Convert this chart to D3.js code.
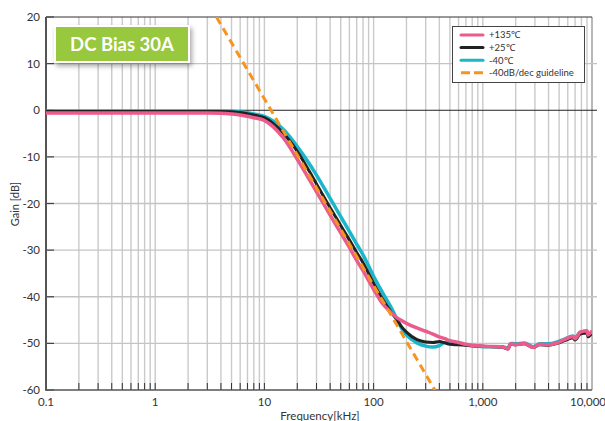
<!DOCTYPE html>
<html lang="en">
<head>
    <meta charset="UTF-8">
    <title>DC Bias 30A</title>
    <script src="https://cdn.jsdelivr.net/npm/d3@7"></script>
    <style>
        body {
            margin: 0;
            background: #fff;
        }
        svg {
            display: block;
        }
        text {
            font-family: Lato, "Open Sans", sans-serif;
            fill: #333;
        }
    </style>
</head>
<body>
    <script>
        // frequency points (kHz) shared by the three measured curves
        const freqs = [0.1, 0.2, 0.5, 1, 2, 3, 4, 5, 6, 7, 8, 10, 12, 15, 20, 30, 40, 50, 60, 70, 80,
            100, 120, 150, 162, 180, 200, 250, 300, 350, 400, 450, 500, 600, 700, 800,
            1000, 1500, 1700, 1800, 2000, 2400, 2900, 3300, 4000, 4800, 5600, 6700, 7000, 7800, 9000, 9200, 10000];

        // gain [dB] for each temperature
        const gainHot = [-0.6, -0.6, -0.6, -0.6, -0.6, -0.6, -0.65, -0.8, -1.0, -1.3, -1.6, -2.2, -3.5, -6.0, -10.5, -17.5, -22.5, -26.3, -29.4, -32.2, -34.4,
            -38.4, -41.4, -43.7, -44.4, -45.1, -45.7, -46.7, -47.4, -48.0, -48.6, -49.0, -49.4, -49.8, -50.2, -50.4,
            -50.6, -50.7, -51.2, -50.1, -50.3, -50.0, -50.9, -50.2, -50.3, -49.9, -49.2, -48.5, -49.0, -47.6, -47.3, -48.2, -47.3];
        const gainRoom = [-0.25, -0.25, -0.25, -0.25, -0.25, -0.25, -0.25, -0.3, -0.5, -0.75, -1.0, -1.6, -2.8, -5.0, -8.8, -15.8, -20.9, -24.7, -27.8, -30.5, -32.7,
            -37.1, -40.4, -43.8, -44.8, -46.4, -47.6, -49.2, -49.7, -49.8, -49.6, -49.9, -50.2, -50.3, -50.4, -50.5,
            -50.6, -50.8, -51.2, -50.2, -50.3, -50.1, -50.9, -50.3, -50.4, -50.0, -49.4, -48.8, -49.3, -48.0, -47.8, -48.6, -47.8];
        const gainCold = [-0.15, -0.15, -0.15, -0.15, -0.15, -0.15, -0.15, -0.2, -0.35, -0.55, -0.8, -1.3, -2.3, -4.2, -7.8, -13.9, -18.9, -22.8, -26.0, -28.7, -31.0,
            -35.6, -39.0, -43.0, -44.6, -46.7, -48.2, -49.9, -50.6, -50.8, -50.5, -49.8, -49.8, -50.0, -50.3, -50.5,
            -50.7, -50.7, -51.0, -50.0, -50.1, -49.9, -50.7, -50.1, -50.1, -49.7, -49.1, -48.4, -48.8, -47.6, -47.4, -48.2, -47.5];

        // -40dB/dec guideline end points
        const guideFreq = [3.64, 364];
        const guideGain = [20, -60];

        const legendLabels = ["+135\u2103", "+25\u2103", "-40\u2103", "-40dB/dec guideline"];
        const decadeLabels = ["0.1", "1", "10", "100", "1,000", "10,000"];
        const gainTicks = [20, 10, 0, -10, -20, -30, -40, -50, -60];

        const width = 605;
        const height = 421;
        const pL = 46, pR = 592, pT = 17, pB = 390;

        const svg = d3.select("body").append("svg")
            .attr("width", width)
            .attr("height", height);

        const defs = svg.append("defs");
        defs.append("clipPath").attr("id", "plotClip")
            .append("rect")
            .attr("x", pL).attr("y", pT)
            .attr("width", pR - pL).attr("height", pB - pT);
        defs.append("filter").attr("id", "shadow")
            .attr("x", "-20%").attr("y", "-30%").attr("width", "150%").attr("height", "180%")
            .append("feDropShadow")
            .attr("dx", 2).attr("dy", 3).attr("stdDeviation", 2.5)
            .attr("flood-color", "#000").attr("flood-opacity", 0.35);

        const x = d3.scaleLog().domain([0.1, 10000]).range([pL, pR]);
        const y = d3.scaleLinear().domain([-60, 20]).range([pB, pT]);

        //grid
        const grid = svg.append("g");
        const xTicks = x.ticks();
        grid.selectAll(".vgrid")
            .data(xTicks)
            .enter()
            .append("line")
            .attr("x1", d => x(d)).attr("x2", d => x(d))
            .attr("y1", pT).attr("y2", pB)
            .attr("stroke", (d, i) => i === xTicks.length - 1 ? "#9a9a9a" : "#cacaca")
            .attr("stroke-width", 1.4);

        grid.selectAll(".hgrid")
            .data(gainTicks.filter(d => d !== 20 && d !== -60))
            .enter()
            .append("line")
            .attr("x1", pL).attr("x2", pR + 5)
            .attr("y1", d => y(d)).attr("y2", d => y(d))
            .attr("stroke", d => d === 0 ? "#222" : "#c4c4c4")
            .attr("stroke-width", d => d === 0 ? 1 : 1.4);

        // top border
        grid.append("line")
            .attr("x1", pL).attr("x2", pR)
            .attr("y1", y(20)).attr("y2", y(20))
            .attr("stroke", "#333").attr("stroke-width", 1);

        // bottom ticks
        grid.selectAll(".xtick")
            .data(xTicks.slice(1, -1))
            .enter()
            .append("line")
            .attr("x1", d => x(d)).attr("x2", d => x(d))
            .attr("y1", pB).attr("y2", pB - 7)
            .attr("stroke", "#333").attr("stroke-width", 1);

        // left ticks
        grid.selectAll(".ytick")
            .data(gainTicks)
            .enter()
            .append("line")
            .attr("x1", pL).attr("x2", pL + 8)
            .attr("y1", d => y(d)).attr("y2", d => y(d))
            .attr("stroke", "#444").attr("stroke-width", 1.2);

        // axis lines
        grid.append("line")
            .attr("x1", pL).attr("x2", pR)
            .attr("y1", pB).attr("y2", pB)
            .attr("stroke", "#555").attr("stroke-width", 1.5);
        grid.append("line")
            .attr("x1", pL).attr("x2", pL)
            .attr("y1", pT).attr("y2", pB + 0.75)
            .attr("stroke", "#555").attr("stroke-width", 2);

        // labels
        svg.selectAll(".ylab")
            .data(gainTicks)
            .enter()
            .append("text")
            .attr("x", 40)
            .attr("y", d => y(d))
            .attr("dy", "0.35em")
            .attr("text-anchor", "end")
            .attr("font-size", 11.5)
            .text(d => d);

        svg.selectAll(".xlab")
            .data(decadeLabels)
            .enter()
            .append("text")
            .attr("x", (d, i) => i === decadeLabels.length - 1 ? x(0.1 * Math.pow(10, i)) - 4 : x(0.1 * Math.pow(10, i)))
            .attr("y", 406)
            .attr("text-anchor", "middle")
            .attr("font-size", 11.5)
            .text(d => d);

        svg.append("text")
            .attr("x", 320).attr("y", 420)
            .attr("text-anchor", "middle")
            .attr("font-size", 11.5)
            .text("Frequency[kHz]");

        svg.append("text")
            .attr("transform", "translate(19,204) rotate(-90)")
            .attr("text-anchor", "middle")
            .attr("font-size", 11)
            .text("Gain [dB]");

        //curves
        const plot = svg.append("g").attr("clip-path", "url(#plotClip)");
        const line = d3.line()
            .x(d => x(d[0]))
            .y(d => y(d[1]))
            .curve(d3.curveMonotoneX);

        const series = [
            { gains: gainCold, color: "#1cb6ca", w: 3.5 },
            { gains: gainRoom, color: "#222222", w: 3 },
            { gains: gainHot, color: "#ec5b8b", w: 3.5 }
        ];
        series.forEach(s => {
            plot.append("path")
                .datum(freqs.map((f, i) => [f, s.gains[i]]))
                .attr("d", line)
                .attr("fill", "none")
                .attr("stroke", s.color)
                .attr("stroke-width", s.w)
                .attr("stroke-linejoin", "round");
        });

        plot.append("path")
            .datum(guideFreq.map((f, i) => [f, guideGain[i]]))
            .attr("d", d3.line().x(d => x(d[0])).y(d => y(d[1])))
            .attr("fill", "none")
            .attr("stroke", "#f7941d")
            .attr("stroke-width", 3)
            .attr("stroke-dasharray", "8,5");

        //legend
        const legend = svg.append("g");
        legend.append("rect")
            .attr("x", 452.5).attr("y", 26.5)
            .attr("width", 132).attr("height", 56)
            .attr("fill", "#fff")
            .attr("stroke", "#444").attr("stroke-width", 1);
        const legendColors = ["#ec5b8b", "#222222", "#1cb6ca", "#f7941d"];
        legendLabels.forEach((lab, i) => {
            const ly = 35 + i * 12.6;
            legend.append("line")
                .attr("x1", 461).attr("x2", 483)
                .attr("y1", ly).attr("y2", ly)
                .attr("stroke", legendColors[i])
                .attr("stroke-width", 3)
                .attr("stroke-linecap", i === 3 ? "butt" : "round")
                .attr("stroke-dasharray", i === 3 ? "9,4" : null);
            legend.append("text")
                .attr("x", 489).attr("y", ly)
                .attr("dy", "0.35em")
                .attr("font-size", 9.5)
                .text(lab);
        });

        //title badge
        const badge = svg.append("g");
        badge.append("rect")
            .attr("x", 55).attr("y", 26)
            .attr("width", 134).attr("height", 36)
            .attr("fill", "#98c83d")
            .attr("stroke", "#fff").attr("stroke-width", 2)
            .attr("filter", "url(#shadow)");
        badge.append("text")
            .attr("x", 122).attr("y", 44)
            .attr("dy", "0.36em")
            .attr("text-anchor", "middle")
            .attr("font-size", 18.5)
            .attr("font-weight", "bold")
            .style("fill", "#fff")
            .text("DC Bias 30A");
    </script>
</body>
</html>
